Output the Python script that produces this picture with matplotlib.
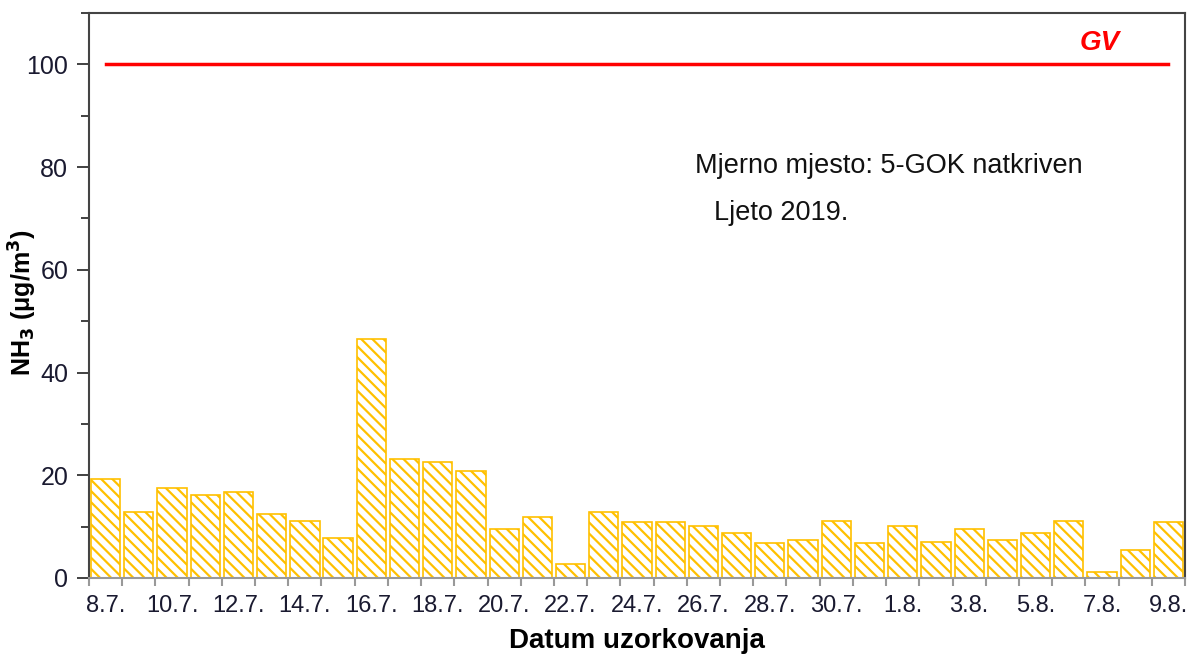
import matplotlib
matplotlib.use("Agg")
import matplotlib.pyplot as plt
import numpy as np
from matplotlib.ticker import MultipleLocator, FixedLocator

plt.rcParams['font.family'] = ['Liberation Sans', 'DejaVu Sans']
plt.rcParams['hatch.linewidth'] = 1.6
plt.rcParams['hatch.color'] = '#FFC000'
plt.rcParams['mathtext.default'] = 'bf'

dates = ["8.7.", "9.7.", "10.7.", "11.7.", "12.7.", "13.7.", "14.7.", "15.7.", "16.7.", "17.7.",
         "18.7.", "19.7.", "20.7.", "21.7.", "22.7.", "23.7.", "24.7.", "25.7.", "26.7.", "27.7.",
         "28.7.", "29.7.", "30.7.", "31.7.", "1.8.", "2.8.", "3.8.", "4.8.", "5.8.", "6.8.",
         "7.8.", "8.8.", "9.8."]
nh3 = [19.3, 12.8, 17.5, 16.1, 16.7, 12.5, 11.1, 7.8, 46.5, 23.2,
       22.6, 20.8, 9.5, 11.9, 2.7, 12.8, 10.9, 10.9, 10.1, 8.8,
       6.8, 7.4, 11.1, 6.8, 10.1, 7.0, 9.5, 7.4, 8.8, 11.1,
       1.2, 5.4, 10.9]
gv_limit = 100

fig = plt.figure(figsize=(11.9, 6.61), dpi=100)
ax = fig.add_axes([0.0748, 0.1256, 0.9210, 0.8547])

x = np.arange(len(dates))
ax.bar(x, nh3, width=0.88, color='white', edgecolor='#FFC000', hatch='\\\\\\', linewidth=1.2)

ax.plot([x[0], x[-1]], [gv_limit, gv_limit], color='#FF0000', lw=2.5)
ax.text(29.94, 104.1, 'GV', color='#FF0000', fontsize=20, fontweight='bold', fontstyle='italic', ha='center', va='center')

ax.text(17.75, 80.2, 'Mjerno mjesto: 5-GOK natkriven', fontsize=19.5, color='#111111', ha='left', va='center')
ax.text(18.32, 71.0, 'Ljeto 2019.', fontsize=19.5, color='#111111', ha='left', va='center')

ax.set_xlim(-0.5, len(dates) - 0.5)
ax.set_ylim(0, 110)

ax.xaxis.set_major_locator(FixedLocator(x[::2]))
ax.set_xticklabels(dates[::2])
ax.xaxis.set_minor_locator(FixedLocator(np.arange(-0.5, len(dates), 1.0)))
ax.tick_params(axis='x', which='major', length=0, labelsize=17, labelcolor='#1a1a30', pad=12)
ax.tick_params(axis='x', which='minor', length=6, color='#999999', width=1.5)

ax.yaxis.set_major_locator(FixedLocator([0, 20, 40, 60, 80, 100]))
ax.yaxis.set_minor_locator(MultipleLocator(10))
ax.tick_params(axis='y', which='major', length=9, width=1.3, color='#333333', labelsize=18, labelcolor='#1a1a30', pad=6)
ax.tick_params(axis='y', which='minor', length=6, width=1.3, color='#333333')

for s in ['left', 'top', 'right']:
    ax.spines[s].set_color('#444444')
    ax.spines[s].set_linewidth(1.5)
ax.spines['bottom'].set_color('#999999')
ax.spines['bottom'].set_linewidth(1.5)

ax.set_xlabel('Datum uzorkovanja', fontsize=20, fontweight='bold', labelpad=8)
fig.text(0.0195, 0.542, 'NH$_3$ (μg/m$^3$)', rotation=90, fontsize=18, fontweight='bold', ha='center', va='center')

fig.savefig('out.png', dpi=100)
